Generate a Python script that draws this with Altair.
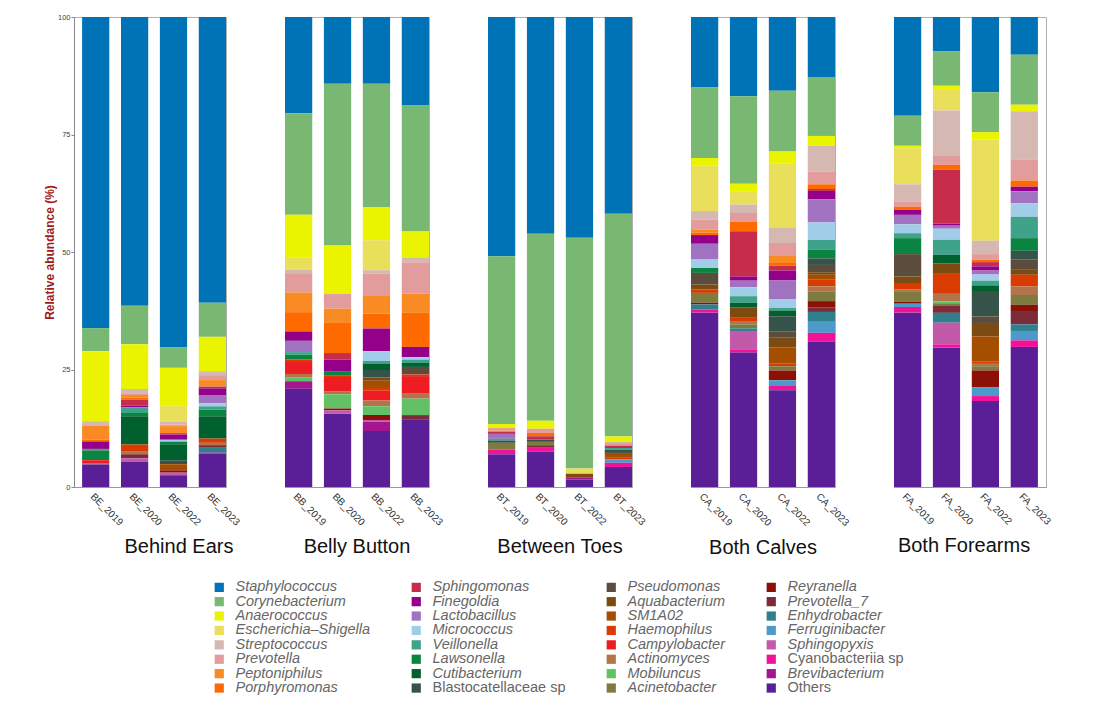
import altair as alt
import pandas as pd

# Genera in legend order; the first is stacked on top, "Others" at the bottom
taxa = [
    "Staphylococcus", "Corynebacterium", "Anaerococcus", "Escherichia–Shigella",
    "Streptococcus", "Prevotella", "Peptoniphilus", "Porphyromonas",
    "Sphingomonas", "Finegoldia", "Lactobacillus", "Micrococcus",
    "Veillonella", "Lawsonella", "Cutibacterium", "Blastocatellaceae sp",
    "Pseudomonas", "Aquabacterium", "SM1A02", "Haemophilus",
    "Campylobacter", "Actinomyces", "Mobiluncus", "Acinetobacter",
    "Reyranella", "Prevotella_7", "Enhydrobacter", "Ferruginibacter",
    "Sphingopyxis", "Cyanobacteriia sp", "Brevibacterium", "Others",
]
colors = [
    "#0073B7", "#79B873", "#EBF400", "#E9DF5A",
    "#D5B8B1", "#E19C9B", "#F98B24", "#FF6A00",
    "#C72D4B", "#94008A", "#A172BF", "#A2CDE9",
    "#3FA38C", "#0A8541", "#00612E", "#36534A",
    "#5C4C3E", "#7D4A12", "#A64E00", "#D93B00",
    "#EE1D23", "#B27448", "#62C065", "#7D7B3F",
    "#8C1008", "#7A2C38", "#2F7F8C", "#4B9AC9",
    "#C25AA9", "#F0139A", "#A4158F", "#5A1E96",
]
upright_labels = ["Blastocatellaceae sp", "Cyanobacteriia sp", "Others"]

sites = ["BE", "BB", "BT", "CA", "FA"]
site_names = ["Behind Ears", "Belly Button", "Between Toes", "Both Calves", "Both Forearms"]
years = ["2019", "2020", "2022", "2023"]

# Relative abundance (%) per sample
BE_2019 = {"Staphylococcus": 66.2, "Corynebacterium": 4.9, "Anaerococcus": 14.9, "Streptococcus": 0.9,
           "Peptoniphilus": 3.0, "Porphyromonas": 0.4, "Finegoldia": 1.6, "Veillonella": 0.3,
           "Lawsonella": 2.1, "Campylobacter": 0.6, "Actinomyces": 0.3, "Others": 4.8}
BE_2020 = {"Staphylococcus": 61.45, "Corynebacterium": 8.2, "Anaerococcus": 9.5, "Streptococcus": 0.9,
           "Prevotella": 0.35, "Peptoniphilus": 0.55, "Porphyromonas": 0.5, "Sphingomonas": 1.2,
           "Finegoldia": 0.4, "Veillonella": 1.2, "Lawsonella": 0.7, "Cutibacterium": 6.0,
           "Haemophilus": 1.55, "Actinomyces": 0.55, "Prevotella_7": 0.85, "Sphingopyxis": 0.8,
           "Others": 5.3}
BE_2022 = {"Staphylococcus": 70.25, "Corynebacterium": 4.4, "Anaerococcus": 8.0, "Escherichia–Shigella": 3.5,
           "Streptococcus": 0.55, "Prevotella": 0.35, "Peptoniphilus": 1.5, "Sphingomonas": 0.3,
           "Finegoldia": 1.1, "Micrococcus": 0.4, "Lawsonella": 0.55, "Cutibacterium": 3.4,
           "Blastocatellaceae sp": 0.85, "SM1A02": 1.3, "Reyranella": 0.5, "Sphingopyxis": 0.55,
           "Others": 2.5}
BE_2023 = {"Staphylococcus": 60.8, "Corynebacterium": 7.25, "Anaerococcus": 7.3, "Streptococcus": 0.85,
           "Prevotella": 1.05, "Peptoniphilus": 1.4, "Sphingomonas": 0.35, "Finegoldia": 1.55,
           "Lactobacillus": 1.6, "Micrococcus": 0.7, "Veillonella": 0.7, "Lawsonella": 1.4,
           "Cutibacterium": 4.75, "Haemophilus": 0.9, "Actinomyces": 0.5, "Prevotella_7": 0.55,
           "Enhydrobacter": 1.05, "Brevibacterium": 0.2, "Others": 7.1}

BB_2019 = {"Staphylococcus": 20.5, "Corynebacterium": 21.6, "Anaerococcus": 9.1, "Escherichia–Shigella": 2.6,
           "Streptococcus": 0.7, "Prevotella": 4.1, "Peptoniphilus": 4.2, "Porphyromonas": 4.1,
           "Finegoldia": 2.0, "Lactobacillus": 2.4, "Veillonella": 0.55, "Lawsonella": 1.05,
           "Haemophilus": 0.5, "Campylobacter": 2.55, "Mobiluncus": 0.85, "Actinomyces": 0.7,
           "Brevibacterium": 1.6, "Others": 20.9}
BB_2020 = {"Staphylococcus": 14.2, "Corynebacterium": 34.4, "Anaerococcus": 10.35, "Prevotella": 3.1,
           "Peptoniphilus": 3.05, "Porphyromonas": 6.4, "Sphingomonas": 1.4, "Finegoldia": 2.45,
           "Lawsonella": 0.85, "Haemophilus": 0.4, "Campylobacter": 3.0, "Actinomyces": 0.7,
           "Mobiluncus": 3.0, "Reyranella": 0.4, "Sphingopyxis": 0.7, "Others": 15.6}
BB_2022 = {"Staphylococcus": 14.2, "Corynebacterium": 26.2, "Anaerococcus": 7.1, "Escherichia–Shigella": 6.4,
           "Streptococcus": 0.7, "Prevotella": 4.6, "Peptoniphilus": 3.9, "Porphyromonas": 3.2,
           "Finegoldia": 4.8, "Micrococcus": 2.1, "Veillonella": 0.5, "Cutibacterium": 1.4,
           "Blastocatellaceae sp": 1.6, "Aquabacterium": 0.7, "SM1A02": 1.55, "Haemophilus": 0.55,
           "Campylobacter": 2.1, "Actinomyces": 1.2, "Mobiluncus": 1.9, "Reyranella": 1.05,
           "Sphingopyxis": 0.35, "Brevibacterium": 2.0, "Others": 11.9}
BB_2023 = {"Staphylococcus": 18.85, "Corynebacterium": 26.8, "Anaerococcus": 5.5, "Streptococcus": 1.05,
           "Prevotella": 6.65, "Peptoniphilus": 4.1, "Porphyromonas": 7.25, "Finegoldia": 2.2,
           "Micrococcus": 0.5, "Veillonella": 0.7, "Cutibacterium": 0.85, "Pseudomonas": 1.6,
           "Haemophilus": 0.35, "Campylobacter": 3.75, "Actinomyces": 1.05, "Mobiluncus": 3.5,
           "Prevotella_7": 0.9, "Others": 14.4}

BT_2019 = {"Staphylococcus": 50.9, "Corynebacterium": 35.7, "Anaerococcus": 0.85, "Peptoniphilus": 0.35,
           "Prevotella": 0.5, "Sphingomonas": 0.4, "Lactobacillus": 1.05, "Veillonella": 0.35,
           "Blastocatellaceae sp": 0.5, "Acinetobacter": 1.4, "Cyanobacteriia sp": 1.05, "Others": 6.95}
BT_2020 = {"Staphylococcus": 46.1, "Corynebacterium": 39.8, "Anaerococcus": 1.7, "Prevotella": 0.9,
           "Porphyromonas": 0.7, "Sphingomonas": 0.7, "Blastocatellaceae sp": 0.5, "Prevotella_7": 0.55,
           "Acinetobacter": 0.7, "Cyanobacteriia sp": 0.85, "Others": 7.5}
BT_2022 = {"Staphylococcus": 46.95, "Corynebacterium": 49.1, "Escherichia–Shigella": 1.15, "Aquabacterium": 0.7,
           "Brevibacterium": 0.5, "Others": 1.6}
BT_2023 = {"Staphylococcus": 41.85, "Corynebacterium": 47.4, "Anaerococcus": 1.05, "Streptococcus": 0.35,
           "Prevotella": 0.55, "Sphingomonas": 0.5, "Veillonella": 0.35, "Blastocatellaceae sp": 0.7,
           "Haemophilus": 0.5, "SM1A02": 0.9, "Ferruginibacter": 0.7, "Cyanobacteriia sp": 0.9,
           "Others": 4.25}

CA_2019 = {"Staphylococcus": 15.0, "Corynebacterium": 15.0, "Anaerococcus": 1.6, "Escherichia–Shigella": 9.7,
           "Streptococcus": 1.8, "Prevotella": 2.1, "Peptoniphilus": 0.7, "Porphyromonas": 0.5,
           "Finegoldia": 1.85, "Lactobacillus": 3.35, "Micrococcus": 1.8, "Lawsonella": 1.05,
           "Pseudomonas": 2.5, "Aquabacterium": 1.05, "Haemophilus": 0.7, "Acinetobacter": 2.1,
           "Reyranella": 0.35, "Enhydrobacter": 1.05, "Cyanobacteriia sp": 0.7, "Others": 37.1}
CA_2020 = {"Staphylococcus": 16.85, "Corynebacterium": 18.65, "Anaerococcus": 1.7, "Escherichia–Shigella": 2.7,
           "Streptococcus": 1.8, "Prevotella": 1.9, "Porphyromonas": 2.0, "Sphingomonas": 9.6,
           "Finegoldia": 0.9, "Lactobacillus": 1.4, "Micrococcus": 1.9, "Veillonella": 1.4,
           "Cutibacterium": 1.05, "Aquabacterium": 2.0, "Haemophilus": 1.0, "Actinomyces": 0.55,
           "Acinetobacter": 0.85, "Enhydrobacter": 0.55, "Sphingopyxis": 3.9, "Cyanobacteriia sp": 0.7,
           "Others": 28.6}
CA_2022 = {"Staphylococcus": 15.7, "Corynebacterium": 12.9, "Anaerococcus": 2.5, "Escherichia–Shigella": 13.8,
           "Streptococcus": 3.2, "Prevotella": 2.6, "Peptoniphilus": 1.65, "Porphyromonas": 0.55,
           "Sphingomonas": 1.05, "Finegoldia": 2.1, "Lactobacillus": 4.05, "Micrococcus": 1.8,
           "Veillonella": 0.55, "Cutibacterium": 1.2, "Blastocatellaceae sp": 3.2, "Pseudomonas": 1.4,
           "Aquabacterium": 2.0, "SM1A02": 3.55, "Haemophilus": 0.5, "Acinetobacter": 0.9,
           "Reyranella": 2.1, "Ferruginibacter": 1.2, "Cyanobacteriia sp": 0.9, "Others": 20.6}
CA_2023 = {"Staphylococcus": 12.75, "Corynebacterium": 12.55, "Anaerococcus": 2.1, "Streptococcus": 5.5,
           "Prevotella": 2.7, "Porphyromonas": 1.0, "Sphingomonas": 0.4, "Finegoldia": 1.8,
           "Lactobacillus": 4.9, "Micrococcus": 3.75, "Veillonella": 2.1, "Lawsonella": 1.8,
           "Blastocatellaceae sp": 1.4, "Pseudomonas": 1.55, "Aquabacterium": 0.55, "SM1A02": 1.05,
           "Haemophilus": 1.4, "Actinomyces": 1.05, "Acinetobacter": 2.1, "Reyranella": 1.3,
           "Prevotella_7": 1.0, "Enhydrobacter": 2.1, "Ferruginibacter": 2.35, "Cyanobacteriia sp": 1.9,
           "Others": 30.9}

FA_2019 = {"Staphylococcus": 21.0, "Corynebacterium": 6.4, "Anaerococcus": 0.55, "Escherichia–Shigella": 7.65,
           "Streptococcus": 3.7, "Prevotella": 1.05, "Porphyromonas": 0.7, "Finegoldia": 1.05,
           "Lactobacillus": 2.0, "Micrococcus": 1.9, "Veillonella": 1.05, "Lawsonella": 3.4,
           "Pseudomonas": 4.75, "Aquabacterium": 1.4, "Haemophilus": 1.4, "Actinomyces": 0.5,
           "Acinetobacter": 2.1, "Reyranella": 0.4, "Ferruginibacter": 0.7, "Cyanobacteriia sp": 1.2,
           "Others": 37.1}
FA_2020 = {"Staphylococcus": 7.35, "Corynebacterium": 7.3, "Anaerococcus": 0.7, "Escherichia–Shigella": 4.55,
           "Streptococcus": 9.65, "Prevotella": 1.9, "Porphyromonas": 1.05, "Sphingomonas": 11.5,
           "Finegoldia": 0.4, "Lactobacillus": 0.65, "Micrococcus": 2.35, "Veillonella": 3.2,
           "Cutibacterium": 1.8, "Aquabacterium": 2.25, "Haemophilus": 4.25, "Actinomyces": 1.6,
           "Mobiluncus": 0.4, "Acinetobacter": 0.45, "Prevotella_7": 1.6, "Enhydrobacter": 2.1,
           "Sphingopyxis": 4.6, "Cyanobacteriia sp": 0.7, "Others": 29.65}
FA_2022 = {"Staphylococcus": 16.0, "Corynebacterium": 8.5, "Anaerococcus": 1.6, "Escherichia–Shigella": 21.5,
           "Streptococcus": 2.85, "Prevotella": 1.2, "Porphyromonas": 0.5, "Sphingomonas": 0.9,
           "Finegoldia": 0.9, "Lactobacillus": 0.85, "Micrococcus": 1.3, "Veillonella": 1.0,
           "Cutibacterium": 1.4, "Blastocatellaceae sp": 5.2, "Pseudomonas": 1.4, "Aquabacterium": 2.85,
           "SM1A02": 5.3, "Haemophilus": 0.55, "Actinomyces": 0.5, "Acinetobacter": 0.9,
           "Reyranella": 3.55, "Ferruginibacter": 1.9, "Cyanobacteriia sp": 1.05, "Others": 18.3}
FA_2023 = {"Staphylococcus": 8.05, "Corynebacterium": 10.6, "Anaerococcus": 1.4, "Streptococcus": 10.3,
           "Prevotella": 4.45, "Porphyromonas": 1.3, "Finegoldia": 1.0, "Lactobacillus": 2.55,
           "Micrococcus": 2.85, "Veillonella": 4.55, "Lawsonella": 2.7, "Blastocatellaceae sp": 1.8,
           "Pseudomonas": 2.1, "Aquabacterium": 1.2, "Haemophilus": 2.5, "Actinomyces": 1.8,
           "Acinetobacter": 2.1, "Reyranella": 1.3, "Prevotella_7": 2.85, "Enhydrobacter": 1.4,
           "Ferruginibacter": 2.0, "Cyanobacteriia sp": 1.4, "Others": 29.8}

abundance = {
    "BE_2019": BE_2019, "BE_2020": BE_2020, "BE_2022": BE_2022, "BE_2023": BE_2023,
    "BB_2019": BB_2019, "BB_2020": BB_2020, "BB_2022": BB_2022, "BB_2023": BB_2023,
    "BT_2019": BT_2019, "BT_2020": BT_2020, "BT_2022": BT_2022, "BT_2023": BT_2023,
    "CA_2019": CA_2019, "CA_2020": CA_2020, "CA_2022": CA_2022, "CA_2023": CA_2023,
    "FA_2019": FA_2019, "FA_2020": FA_2020, "FA_2022": FA_2022, "FA_2023": FA_2023,
}

records = []
for sample, composition in abundance.items():
    for taxon, value in composition.items():
        records.append({
            "sample": sample,
            "site": sample.split("_")[0],
            "taxon": taxon,
            "value": value,
            "rank": taxa.index(taxon),
        })
df = pd.DataFrame(records)

upright_expr = "indexof(" + str(upright_labels) + ", datum.label) >= 0 ? 'normal' : 'italic'"

# Four legend columns of eight genera, read top to bottom
color = alt.Color(
    "taxon:N",
    scale=alt.Scale(domain=taxa, range=colors),
    legend=alt.Legend(
        title=None,
        orient="none",
        legendX=138,
        legendY=563,
        direction="vertical",
        columns=4,
        symbolLimit=40,
        symbolType="square",
        symbolSize=85,
        symbolStrokeWidth=0,
        labelFontSize=14.5,
        labelColor="#666666",
        labelFontStyle={"expr": upright_expr},
        labelOffset=9,
        labelLimit=300,
        rowPadding=-0.6,
        columnPadding=38,
    ),
)


def panel(i):
    site = sites[i]
    outer = i in (0, len(sites) - 1)
    width = 152 if outer else 144
    scale_x = alt.Scale(
        paddingInner=0.3,
        paddingOuter=0.104 if outer else 0,
        align=1 if i == 0 else 0,
    )
    x = alt.X(
        "sample:N",
        sort=[f"{site}_{y}" for y in years],
        scale=scale_x,
        axis=alt.Axis(
            title=None, labelAngle=45, ticks=False, labelFontSize=10,
            labelColor="#333333", labelPadding=4, domainColor="#999999",
        ),
    )
    if i == 0:
        y_axis = alt.Axis(
            title="Relative abundance (%)", values=[0, 25, 50, 75, 100],
            tickSize=3, tickColor="#888888", domainColor="#888888",
            labelFontSize=7.5, labelColor="#444444", labelPadding=1, grid=False,
            titleColor="#9E1B1E", titleFontSize=12, titleFontWeight="bold", titlePadding=1,
        )
    else:
        y_axis = None
    y = alt.Y(
        "value:Q", stack="zero",
        scale=alt.Scale(domain=[0, 100], nice=False, zero=True),
        axis=y_axis,
    )
    title_shift = {0: 29, 4: -6}.get(i, 0)
    return (
        alt.Chart(df)
        .transform_filter(alt.datum.site == site)
        .mark_bar()
        .encode(
            x=x, y=y, color=color,
            order=alt.Order("rank:Q", sort="descending"),
            tooltip=["sample:N", "taxon:N", "value:Q"],
        )
        .properties(
            width=width, height=470,
            title=alt.TitleParams(
                site_names[i], orient="bottom", anchor="middle", fontSize=20,
                fontWeight="normal", color="#111111", offset=10, dx=title_shift,
            ),
        )
    )


chart = (
    alt.hconcat(*[panel(i) for i in range(len(sites))], spacing=59, bounds="flush")
    .properties(padding={"left": 42, "top": 12, "right": 5, "bottom": 5})
    .configure(font="Liberation Sans")
    .configure_view(stroke="#b0b0b0", strokeWidth=1)
)

chart.save("out.html", embed_options={"renderer": "svg", "actions": False})
